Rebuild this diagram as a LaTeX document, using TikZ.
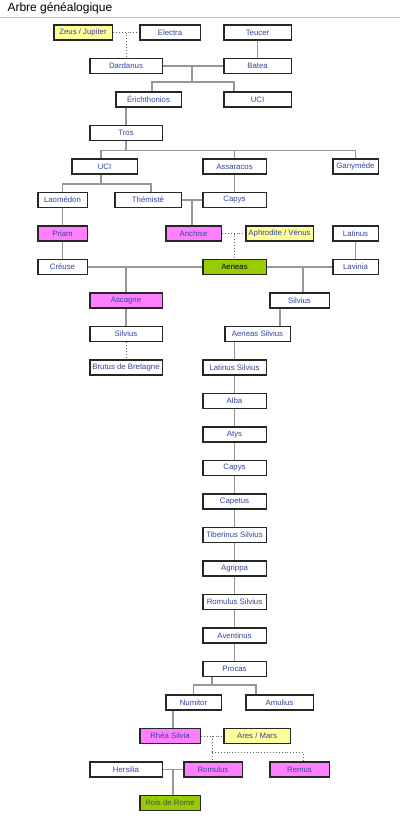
\documentclass[tikz,border=0pt]{standalone}
\usepackage{fontspec}
\setmainfont{Liberation Sans}
\usepackage{xcolor}
\usepackage{tikz}
\usetikzlibrary{positioning}

\definecolor{linktext}{RGB}{51,68,160}
\definecolor{godfill}{RGB}{255,255,153}
\definecolor{herofill}{RGB}{255,128,255}
\definecolor{keyfill}{RGB}{153,204,0}
\definecolor{wire}{RGB}{150,150,150}

\begin{document}
\begin{tikzpicture}[
  x=1pt, y=-1pt,
  font=\fontsize{7.8}{9}\selectfont,
  pers/.style={draw=black!85, line width=1.5pt, fill=white, text=linktext, minimum height=15pt, inner sep=1pt, align=center},
  god/.style={pers, fill=godfill},
  hero/.style={pers, fill=herofill},
  key/.style={pers, fill=keyfill, text=black},
  wireline/.style={draw=wire, line width=1.2pt},
  myth/.style={draw=black!60, line width=0.9pt, dotted}
]
\useasboundingbox (0,0) rectangle (400,825);
\node[anchor=west, font=\fontsize{12}{14}\selectfont] (title) at (4,8) {Arbre généalogique};
\draw[black!25, line width=0.8pt] (0,17) -- (400,17);

% Dardanus line
\node[god, minimum width=58.5pt] (zeus) at (83,32.5) {Zeus / Jupiter};
\node[pers, minimum width=60.5pt] (electra) at (170,32.5) {Electra};
\node[pers, minimum width=67.5pt] (teucer) at (257.5,32.5) {Teucer};
\node[pers, minimum width=72.5pt] (dardanus) at (126,66) {Dardanus};
\node[pers, minimum width=67.5pt] (batea) at (257.5,66) {Batea};
\node[pers, minimum width=65.5pt] (erich) at (148.5,99.5) {Érichthonios};
\node[pers, minimum width=67.5pt] (uci1) at (257.5,99.5) {UCI};
\node[pers, minimum width=72.5pt] (tros) at (126,133) {Tros};
\node[pers, minimum width=65.5pt] (uci2) at (104.5,166.5) {UCI};
\node[pers, minimum width=63.5pt] (assaracos) at (234.5,166.5) {Assaracos};
\node[pers, minimum width=45.5pt] (ganymede) at (355.5,166.5) {Ganymède};
\node[pers, minimum width=49.5pt] (laomedon) at (62.5,200) {Laomédon};
\node[pers, minimum width=66.5pt] (themiste) at (148,200) {Thémisté};
\node[pers, minimum width=63.5pt] (capys1) at (234.5,200) {Capys};
\node[hero, minimum width=49.5pt] (priam) at (62.5,233.5) {Priam};
\node[hero, minimum width=55.5pt] (anchise) at (193.5,233.5) {Anchise};
\node[god, minimum width=67.5pt] (aphrodite) at (279.5,233.5) {Aphrodite / Vénus};
\node[pers, minimum width=45.5pt] (latinus) at (355.5,233.5) {Latinus};
\node[pers, minimum width=49.5pt] (creuse) at (62.5,267) {Créuse};
\node[key, minimum width=63.5pt] (aeneas) at (234.5,267) {Aeneas};
\node[pers, minimum width=45.5pt] (lavinia) at (355.5,267) {Lavinia};
\node[hero, minimum width=72.5pt] (ascagne) at (126,300.5) {Ascagne};
\node[pers, minimum width=59.5pt] (silvius1) at (299.5,300.5) {Silvius};
\node[pers, minimum width=72.5pt] (silvius2) at (126,334) {Silvius};
\node[pers, minimum width=65.5pt] (aensilvius) at (257.5,334) {Aeneas Silvius};
\node[pers, minimum width=72.5pt] (brutus) at (126,367.5) {Brutus de Bretagne};

% kings of Alba Longa
\node[pers, minimum width=63.5pt] (latsilvius) at (234.5,367.5) {Latinus Silvius};
\node[pers, minimum width=63.5pt] (alba) at (234.5,401) {Alba};
\node[pers, minimum width=63.5pt] (atys) at (234.5,434.5) {Atys};
\node[pers, minimum width=63.5pt] (capys2) at (234.5,468) {Capys};
\node[pers, minimum width=63.5pt] (capetus) at (234.5,501.5) {Capetus};
\node[pers, minimum width=63.5pt] (tibsilvius) at (234.5,535) {Tiberinus Silvius};
\node[pers, minimum width=63.5pt] (agrippa) at (234.5,568.5) {Agrippa};
\node[pers, minimum width=63.5pt] (romsilvius) at (234.5,602) {Romulus Silvius};
\node[pers, minimum width=63.5pt] (aventinus) at (234.5,635.5) {Aventinus};
\node[pers, minimum width=63.5pt] (procas) at (234.5,669) {Procas};

% Rome
\node[pers, minimum width=55.5pt] (numitor) at (193.5,702.5) {Numitor};
\node[pers, minimum width=67.5pt] (amulius) at (279.5,702.5) {Amulius};
\node[hero, minimum width=60.5pt] (rhea) at (170,736) {Rhéa Silvia};
\node[god, minimum width=66.5pt] (ares) at (257,736) {Ares / Mars};
\node[pers, minimum width=72.5pt] (hersilia) at (126,769.5) {Hersilia};
\node[hero, minimum width=58.5pt] (romulus) at (213,769.5) {Romulus};
\node[hero, minimum width=59.5pt] (remus) at (299.5,769.5) {Remus};
\node[key, minimum width=60.5pt, text=black!70] (rois) at (170,803) {Rois de Rome};

\coordinate (m1) at (192,66);
\coordinate (b1) at (192,82);
\coordinate (b3) at (126,150.5);
\coordinate (b4) at (101,184);
\coordinate (m5) at (192,200);
\coordinate (m7a) at (126,267);
\coordinate (m7b) at (303,267);
\coordinate (b19) at (212,685);
\coordinate (m21) at (212,736);
\coordinate (b21) at (212,752);
\coordinate (m22) at (173,769.5);

\draw[myth] (zeus.east) -- (electra.west);
\draw[myth] (dardanus.north |- zeus.east) -- (dardanus.north);
\draw[wireline] (teucer.south) -- (batea.north);
\draw[wireline] (dardanus.east) -- (batea.west);
\draw[wireline] (m1) -- (b1);
\draw[wireline] (b1) -| ([xshift=3.5pt]erich.north);
\draw[wireline] (b1) -| ([xshift=-23.5pt]uci1.north);
\draw[wireline] (tros.north |- erich.south) -- (tros.north);
\draw[wireline] (tros.south) -- (b3);
\draw[wireline] (b3) -| ([xshift=-3.5pt]uci2.north);
\draw[wireline] (b3) -| (assaracos.north);
\draw[wireline] (b3) -| (ganymede.north);
\draw[wireline] (b4 |- uci2.south) -- (b4);
\draw[wireline] (b4) -| (laomedon.north);
\draw[wireline] (b4) -| ([xshift=3pt]themiste.north);
\draw[wireline] (assaracos.south) -- (capys1.north);
\draw[wireline] (themiste.east) -- (capys1.west);
\draw[wireline] (m5) -- (m5 |- anchise.north);
\draw[wireline] (laomedon.south) -- (priam.north);
\draw[myth] (anchise.east) -- (aphrodite.west);
\draw[myth] (aeneas.north |- anchise.east) -- (aeneas.north);
\draw[wireline] (latinus.south) -- (lavinia.north);
\draw[wireline] (priam.south) -- (creuse.north);
\draw[wireline] (creuse.east) -- (aeneas.west);
\draw[wireline] (aeneas.east) -- (lavinia.west);
\draw[wireline] (m7a) -- (ascagne.north);
\draw[wireline] (m7b) -- (m7b |- silvius1.north);
\draw[wireline] (ascagne.south) -- (silvius2.north);
\draw[wireline] ([xshift=-19.5pt]silvius1.south) -- ([xshift=22.5pt]aensilvius.north);
\draw[myth] (silvius2.south) -- (brutus.north);
\draw[wireline] (latsilvius.north |- aensilvius.south) -- (latsilvius.north);
\draw[wireline] (latsilvius) -- (alba);
\draw[wireline] (alba) -- (atys);
\draw[wireline] (atys) -- (capys2);
\draw[wireline] (capys2) -- (capetus);
\draw[wireline] (capetus) -- (tibsilvius);
\draw[wireline] (tibsilvius) -- (agrippa);
\draw[wireline] (agrippa) -- (romsilvius);
\draw[wireline] (romsilvius) -- (aventinus);
\draw[wireline] (aventinus) -- (procas);
\draw[wireline] (b19 |- procas.south) -- (b19);
\draw[wireline] (b19) -| (numitor.north);
\draw[wireline] (b19) -| ([xshift=-23.5pt]amulius.north);
\draw[wireline] ([xshift=3pt]rhea.north |- numitor.south) -- ([xshift=3pt]rhea.north);
\draw[myth] (rhea.east) -- (ares.west);
\draw[myth] (m21) -- (m21 |- romulus.north);
\draw[myth] (b21) -| ([xshift=3.5pt]remus.north);
\draw[wireline] (hersilia.east) -- (romulus.west);
\draw[wireline] (m22) -- (m22 |- rois.north);
\end{tikzpicture}
\end{document}
